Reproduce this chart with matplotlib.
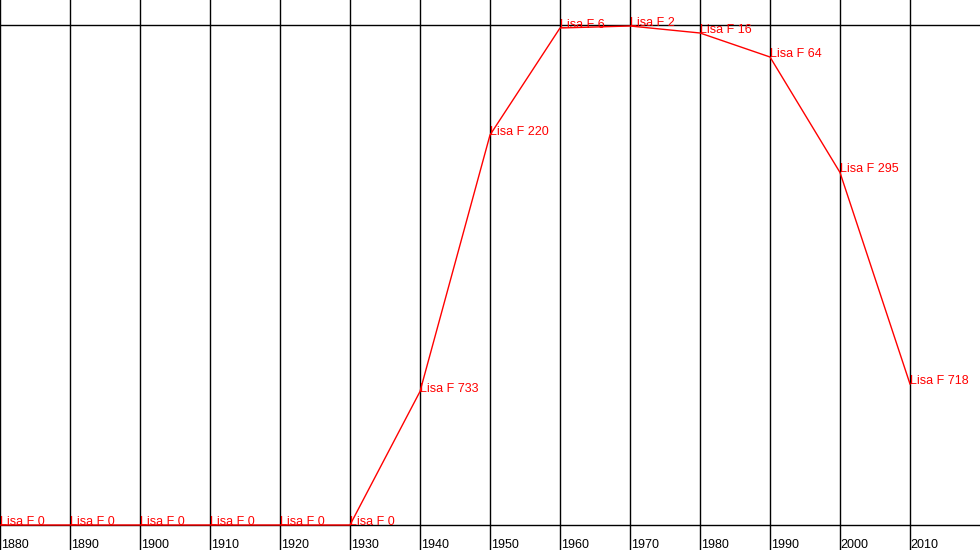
import numpy as np
import matplotlib.pyplot as plt

# decades and popularity rank of "Lisa" (F); 0 = not ranked
years = [1880, 1890, 1900, 1910, 1920, 1930, 1940, 1950, 1960, 1970, 1980, 1990, 2000, 2010]
ranks = [0, 0, 0, 0, 0, 0, 733, 220, 6, 2, 16, 64, 295, 718]
name = 'Lisa'
sex = 'F'
max_rank = 1000

plt.rcParams['font.family'] = ['Liberation Sans', 'DejaVu Sans']

fig = plt.figure(figsize=(9.8, 5.5), dpi=100)
ax = fig.add_axes([0, 0, 1, 1])
ax.set_xlim(1880, 2020)
ax.set_ylim(1050, -50)
ax.axis('off')

# grid
for yr in years:
    ax.axvline(yr, color='black', lw=1)
    ax.text(yr + 0.1, 1028, str(yr), color='black', fontsize=9, ha='left', va='top')
for v in [0, max_rank]:
    ax.axhline(v, color='black', lw=1)

# rank line, unranked goes to the bottom
plot_vals = [r if r > 0 else max_rank for r in ranks]
ax.plot(years, plot_vals, color='red', lw=1)
for yr, r, v in zip(years, ranks, plot_vals):
    ax.text(yr, v, '{} {} {}'.format(name, sex, r), color='red', fontsize=9,
            ha='left', va='baseline')

fig.savefig('out.png', dpi=100)
